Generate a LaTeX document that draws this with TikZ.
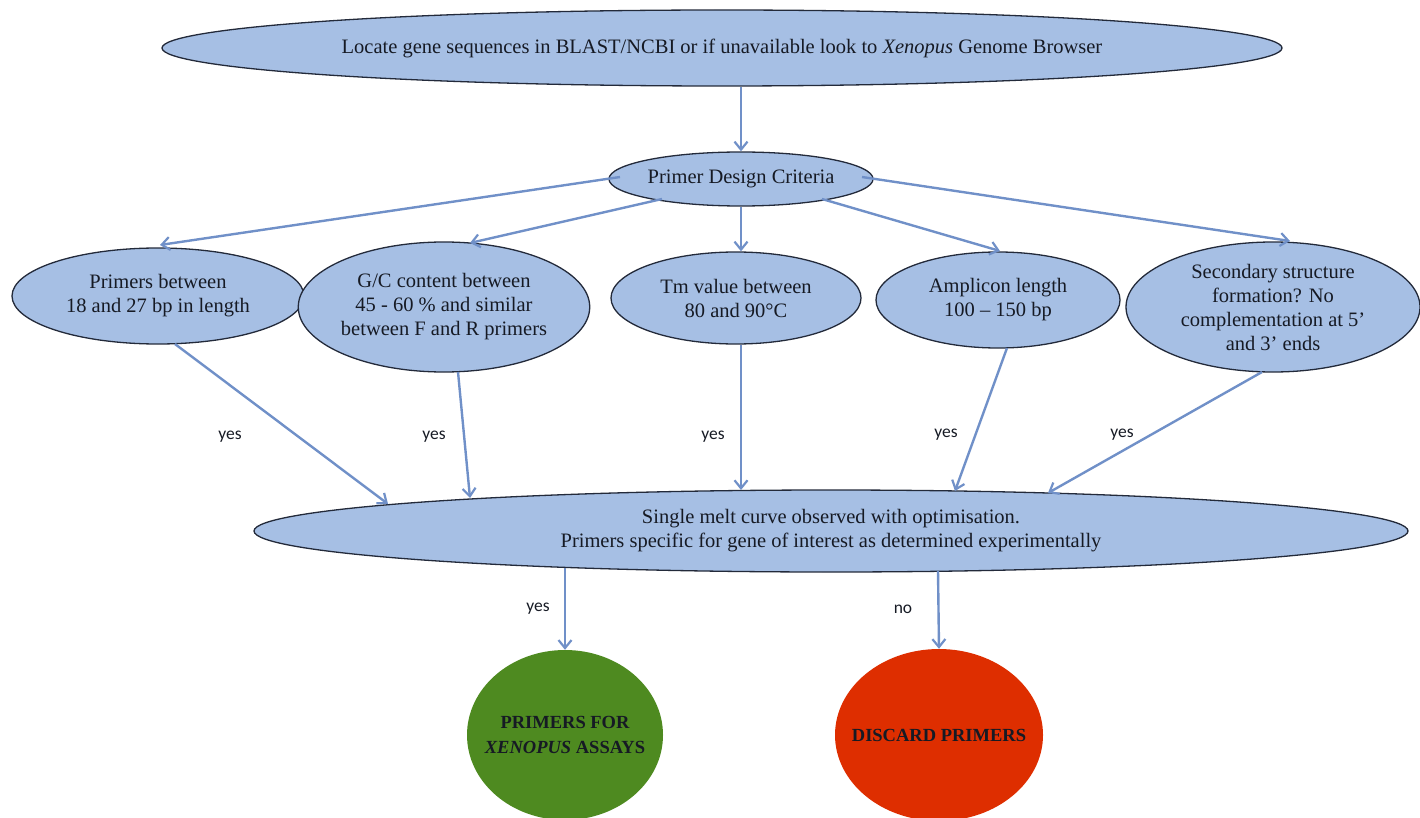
\documentclass[tikz,border=0pt]{standalone}
\usepackage{fontspec}
\setmainfont{Liberation Serif}
\newfontfamily\lblfont{Carlito}
\usetikzlibrary{shapes.geometric,arrows.meta}
\definecolor{boxfill}{RGB}{166,191,228}
\definecolor{boxline}{RGB}{35,42,58}
\definecolor{arrowcol}{RGB}{112,144,200}
\definecolor{okgreen}{RGB}{78,138,32}
\definecolor{badred}{RGB}{222,46,0}
\definecolor{txt}{RGB}{22,26,36}
\tikzset{
  oval/.style={ellipse, draw=boxline, line width=1.3pt, fill=boxfill, inner sep=0pt,
    align=center, text=txt, font=\fontsize{20.5}{24}\selectfont},
  endoval/.style={ellipse, inner xsep=-20pt, inner ysep=0pt, align=center, text=txt,
    font=\fontsize{18.5}{25}\selectfont\bfseries},
  conn/.style={draw=arrowcol, line width=2.4pt, -{Straight Barb[length=8pt,width=13pt,line width=2.2pt]}},
  lbl/.style={font=\lblfont\fontsize{17.5}{20}\selectfont, text=txt}
}
\begin{document}
\begin{tikzpicture}[x=1pt,y=-1pt]
\useasboundingbox (0,0) rectangle (1420,818);
% nodes
\node[oval, minimum width=1120, minimum height=76] (top) at (722,48)
  {Locate gene sequences in BLAST/NCBI or if unavailable look to \textit{Xenopus} Genome Browser};
\node[oval, minimum width=242, minimum height=54] (pdc) at (741,179) {Primer Design Criteria};
\node[oval, minimum width=292, minimum height=96] (c1) at (158,296)
  {Primers between\\18 and 27 bp in length};
\node[oval, minimum width=254, minimum height=130] (c2) at (444,307)
  {G/C content between\\45 - 60 \% and similar\\between F and R primers};
\node[oval, minimum width=250, minimum height=92] (c3) at (736,298)
  {Tm value between\\80 and 90°C};
\node[oval, minimum width=244, minimum height=96] (c4) at (998,300)
  {Amplicon length\\100 – 150 bp};
\node[oval, minimum width=294, minimum height=130] (c5) at (1273,307)
  {Secondary structure\\formation? No\\complementation at 5’\\and 3’ ends};
\node[oval, minimum width=1154, minimum height=82] (melt) at (831,531)
  {Single melt curve observed with optimisation.\\Primers specific for gene of interest as determined experimentally};
\node[endoval, fill=okgreen, minimum width=196, minimum height=170] (good) at (565,735)
  {PRIMERS FOR\\\textit{XENOPUS} ASSAYS};
\node[endoval, fill=badred, minimum width=208, minimum height=172] (bad) at (939,735)
  {DISCARD PRIMERS};
% connectors
\draw[conn] (pdc.north |- top.south) -- (pdc.north);
\draw[conn] ([shift={(-121,-2)}]pdc.center) -- ([shift={(2,-51)}]c1.center);
\draw[conn] ([shift={(-79,20)}]pdc.center) -- ([shift={(26,-64)}]c2.center);
\draw[conn] (pdc.south) -- (pdc.south |- c3.north);
\draw[conn] ([shift={(81,20)}]pdc.center) -- ([shift={(2,-49)}]c4.center);
\draw[conn] ([shift={(121,-2)}]pdc.center) -- ([shift={(17,-66)}]c5.center);
\draw[conn] ([shift={(17,48)}]c1.center) -- ([shift={(-443,-27)}]melt.center);
\draw[conn] ([shift={(14,65)}]c2.center) -- ([shift={(-361,-33)}]melt.center);
\draw[conn] (pdc.south |- c3.south) -- ([shift={(-90,-41)}]melt.center);
\draw[conn] ([shift={(9,48)}]c4.center) -- ([shift={(124,-40)}]melt.center);
\draw[conn] ([shift={(-11,65)}]c5.center) -- ([shift={(217,-38)}]melt.center);
\draw[conn] ([shift={(-266,37)}]melt.center) -- (good.north);
\draw[conn] ([shift={(107,40)}]melt.center) -- (bad.north);
% labels
\node[lbl] (y1) at (230,437) {yes};
\node[lbl] (y2) at (434,437) {yes};
\node[lbl] (y3) at (713,437) {yes};
\node[lbl] (y4) at (946,435) {yes};
\node[lbl] (y5) at (1122,435) {yes};
\node[lbl] (y6) at (538,609) {yes};
\node[lbl] (n1) at (903,609) {no};
\end{tikzpicture}
\end{document}
